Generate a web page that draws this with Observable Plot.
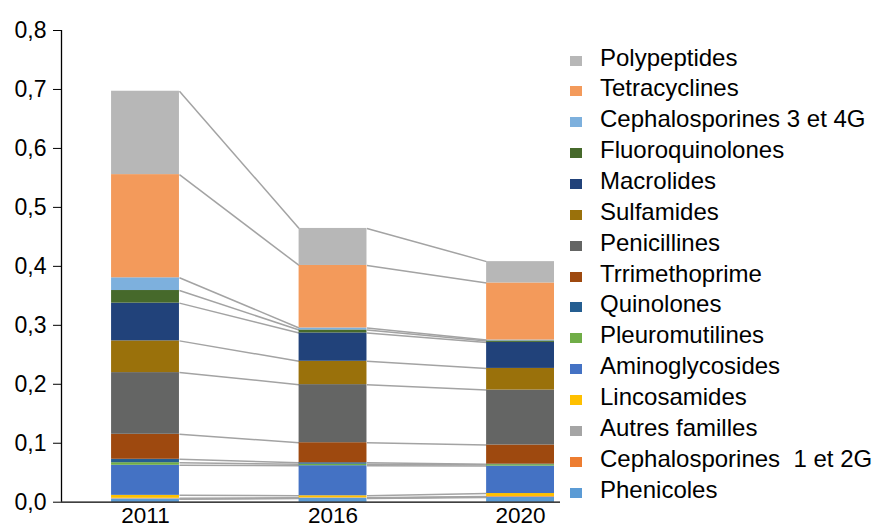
<!DOCTYPE html>
<html><head><meta charset="utf-8">
<script src="https://cdn.jsdelivr.net/npm/d3@7"></script>
<script src="https://cdn.jsdelivr.net/npm/@observablehq/plot@0.6"></script>
<style>
body{margin:0;background:#fff;font-family:"Liberation Sans",Arial,sans-serif;}
#wrap{position:relative;width:873px;height:529px;overflow:hidden;}
#legend{position:absolute;left:570px;top:42.6px;font-size:24px;color:#000;}
#legend .row{height:30.86px;line-height:30.86px;white-space:pre;display:flex;align-items:center;}
#legend .sw{width:12px;height:10px;margin-right:18px;margin-top:5px;flex:none;}
</style></head><body><div id="wrap"><div id="legend"></div></div>
<script>
const years = ["2011", "2016", "2020"];
// stacking order, bottom to top
const families = ["Phenicoles", "Cephalosporines  1 et 2G", "Autres familles", "Lincosamides", "Aminoglycosides", "Pleuromutilines", "Quinolones", "Trrimethoprime", "Penicillines", "Sulfamides", "Macrolides", "Fluoroquinolones", "Cephalosporines 3 et 4G", "Tetracyclines", "Polypeptides"];
const colors = ["#5b9bd5", "#ed7d31", "#a5a5a5", "#ffc000", "#4472c4", "#70ad47", "#255e91", "#9e490f", "#646564", "#9a710b", "#21427a", "#46692b", "#7db0dd", "#f39a5b", "#b7b7b7"];
const v2011 = [0.0051, 0.0005, 0.0010, 0.0050, 0.0510, 0.0044, 0.0058, 0.0424, 0.1046, 0.0538, 0.0640, 0.0214, 0.0216, 0.1750, 0.1414];
const v2016 = [0.0063, 0.0003, 0.0008, 0.0035, 0.0510, 0.0025, 0.0025, 0.0340, 0.0985, 0.0396, 0.0480, 0.0051, 0.0034, 0.1060, 0.0628];
const v2020 = [0.0080, 0.0012, 0.0005, 0.0050, 0.0465, 0.0025, 0.0008, 0.0325, 0.0932, 0.0367, 0.0441, 0.0025, 0.0015, 0.0968, 0.0362];
const yTicks = [0, 0.1, 0.2, 0.3, 0.4, 0.5, 0.6, 0.7, 0.8];

const series = [v2011, v2016, v2020];
const halfW = 0.181;
const segs = [];
const tops = [];
series.forEach((vals, i) => {
  let cum = 0;
  const t = [];
  vals.forEach((v, k) => {
    segs.push({i, family: families[k], y1: cum, y2: cum + v});
    cum += v;
    t.push(cum);
  });
  tops.push(t);
});
const links = [];
for (let i = 0; i < series.length - 1; i++) {
  families.forEach((f, k) => {
    links.push({x1: i + halfW, x2: i + 1 - halfW, y1: tops[i][k], y2: tops[i + 1][k]});
  });
}

const chart = Plot.plot({
  width: 873, height: 529,
  marginLeft: 61, marginRight: 313, marginTop: 30, marginBottom: 27.3,
  style: {fontFamily: "'Liberation Sans', Arial, sans-serif", fontSize: "22.5px", color: "#000", background: "#fff", overflow: "visible"},
  x: {domain: [-0.448, 2.213], label: null},
  y: {domain: [0, 0.8], label: null},
  color: {domain: families, range: colors},
  marks: [
    Plot.link(links, {x1: "x1", x2: "x2", y1: "y1", y2: "y2", stroke: "#a3a3a3", strokeWidth: 1.5}),
    Plot.rectY(segs, {x1: d => d.i - halfW, x2: d => d.i + halfW, y1: "y1", y2: "y2", fill: "family"}),
    Plot.axisY({ticks: yTicks, tickFormat: d => d.toFixed(1).replace(".", ","), tickSize: 8, tickPadding: 7, label: null, stroke: "#000", fontSize: 23}),
    Plot.axisX({ticks: [0, 1, 2], tickFormat: i => years[i], tickSize: 0, tickPadding: 5, label: null, fontSize: 22.5}),
    Plot.ruleY([0], {stroke: "#000", strokeWidth: 1.3}),
    Plot.ruleX([-0.448], {stroke: "#000", strokeWidth: 1.3})
  ]
});
const wrap = document.getElementById("wrap");
wrap.insertBefore(chart, wrap.firstChild);

const legend = document.getElementById("legend");
for (let k = families.length - 1; k >= 0; k--) {
  const row = document.createElement("div");
  row.className = "row";
  const sw = document.createElement("span");
  sw.className = "sw";
  sw.style.background = colors[k];
  const tx = document.createElement("span");
  tx.textContent = families[k];
  row.appendChild(sw);
  row.appendChild(tx);
  legend.appendChild(row);
}
</script>
</body></html>
